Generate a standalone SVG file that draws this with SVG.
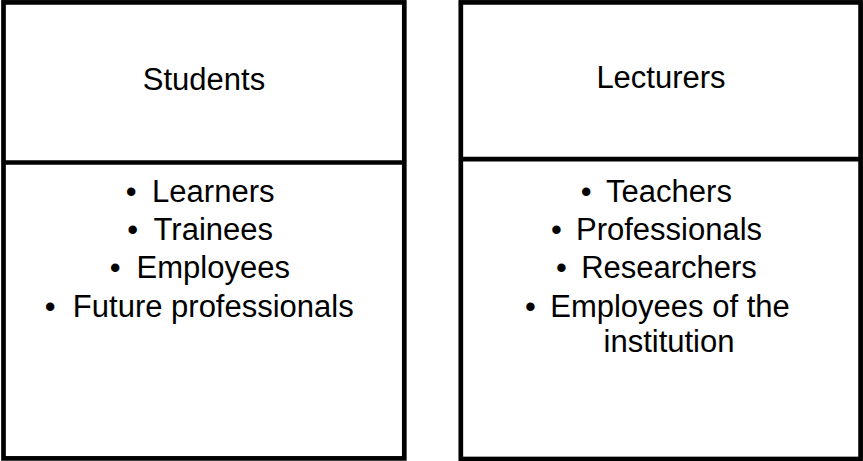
<svg xmlns="http://www.w3.org/2000/svg" width="863" height="461" viewBox="0 0 863 461">
<style>
.box{fill:#fff;stroke:#000;stroke-width:4.7}
.div{stroke:#000;stroke-width:4.7}
text{font-family:"Liberation Sans",Arial,sans-serif;font-size:31px;fill:#000}
.c{text-anchor:middle}
</style>
<rect width="863" height="461" fill="#fff"/>
<g id="students">
<rect class="box" x="3.5" y="2.4" width="400.8" height="456"/>
<line class="div" x1="3.5" y1="162.5" x2="404.3" y2="162.5"/>
<text class="c" x="204" y="90">Students</text>
<text x="125.7" y="202.3">•</text><text class="c" x="213.3" y="202.3">Learners</text>
<text x="127.3" y="240">•</text><text class="c" x="213.3" y="240">Trainees</text>
<text x="109.7" y="278">•</text><text class="c" x="213.3" y="278">Employees</text>
<text x="44.7" y="316.7">•</text><text class="c" x="213.3" y="316.7">Future professionals</text>
</g>
<g id="lecturers">
<rect class="box" x="460.8" y="2.4" width="399.8" height="456.6"/>
<line class="div" x1="460.8" y1="159.2" x2="860.6" y2="159.2"/>
<text class="c" x="661" y="88.3">Lecturers</text>
<text x="580.7" y="201.7">•</text><text class="c" x="669" y="201.7">Teachers</text>
<text x="551" y="240">•</text><text class="c" x="669" y="240">Professionals</text>
<text x="556" y="278.3">•</text><text class="c" x="669" y="278.3">Researchers</text>
<text x="525" y="316.7">•</text><text class="c" x="670" y="316.7">Employees of the</text>
<text class="c" x="669" y="351.7">institution</text>
</g>
<g id="connectors"></g>
</svg>
